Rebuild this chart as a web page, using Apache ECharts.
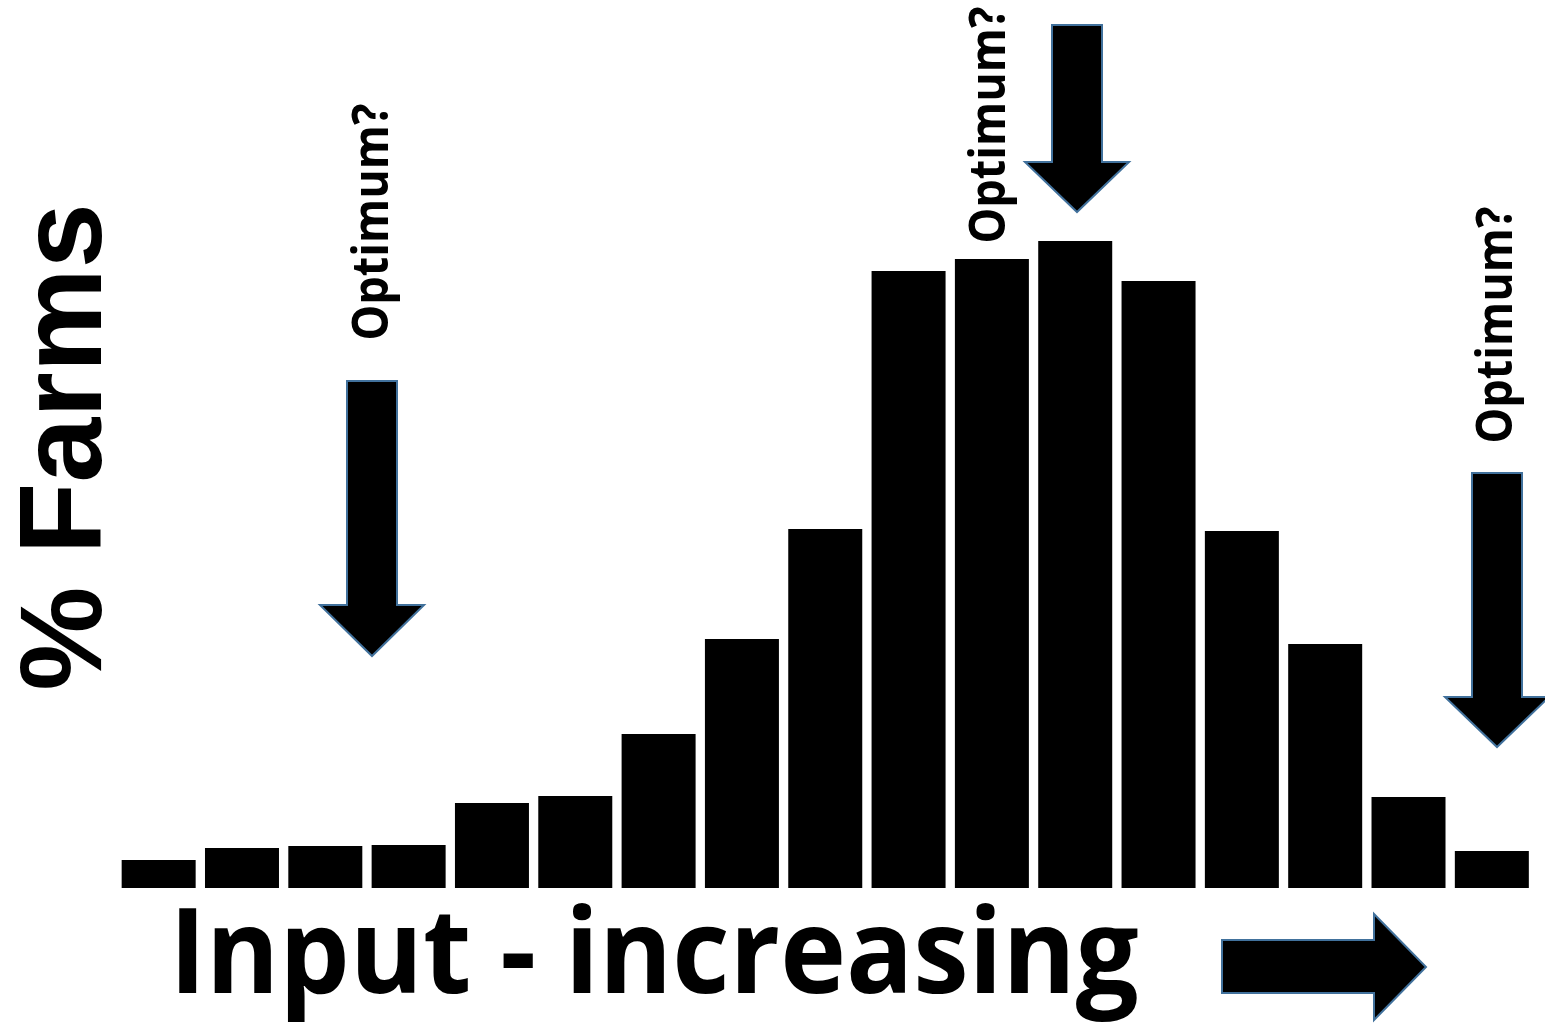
<!DOCTYPE html>
<html>
<head>
<meta charset="utf-8">
<script src="https://cdn.jsdelivr.net/npm/echarts@6/dist/echarts.min.js"></script>
<style>
  html, body { margin: 0; padding: 0; background: #fff; }
  #chart { width: 1545px; height: 1023px; }
</style>
</head>
<body>
<div id="chart"></div>
<script>
// Input classes, left (low input) to right (high input)
const categories = ["1", "2", "3", "4", "5", "6", "7", "8", "9", "10", "11", "12", "13", "14", "15", "16", "17"];
// Share of farms per class (relative bar heights)
const farmShare = [28, 40, 42, 43, 85, 92, 154, 249, 359, 617, 629, 647, 607, 357, 244, 91, 37];

const axisMax = 888;
const arrowBorder = "#41719C";

const chart = echarts.init(document.getElementById("chart"));

// block arrow shapes for the annotations
const downArrow = (cx, top, neck, tip) => [
  [cx - 25, top], [cx + 25, top], [cx + 25, neck], [cx + 52, neck],
  [cx, tip], [cx - 52, neck], [cx - 25, neck]
];

// rotated "Optimum?" label, x is the left edge of the letters
const optimumLabel = (x, y) => ({
  type: "text",
  x: x,
  y: y,
  rotation: Math.PI / 2,
  scaleX: 0.9,
  style: {
    text: "Optimum?",
    font: "bold 50px 'Open Sans'",
    fill: "#000",
    align: "center",
    verticalAlign: "top"
  }
});

const options = {
  animation: false,
  backgroundColor: "#fff",
  grid: { left: 117, right: 11.5, top: 0, bottom: 135 },
  xAxis: {
    type: "category",
    data: categories,
    show: false
  },
  yAxis: {
    type: "value",
    min: 0,
    max: axisMax,
    show: false
  },
  series: [
    {
      type: "bar",
      data: farmShare,
      barWidth: 74,
      itemStyle: { color: "#000" }
    }
  ],
  graphic: [
    {
      type: "polygon",
      shape: { points: downArrow(372, 381, 605, 656) },
      style: { fill: "#000", stroke: arrowBorder, lineWidth: 2 }
    },
    {
      type: "polygon",
      shape: { points: downArrow(1077, 25, 162, 212) },
      style: { fill: "#000", stroke: arrowBorder, lineWidth: 2 }
    },
    {
      type: "polygon",
      shape: { points: downArrow(1497, 473, 697, 747) },
      style: { fill: "#000", stroke: arrowBorder, lineWidth: 2 }
    },
    {
      type: "polygon",
      shape: {
        points: [[1222, 940], [1374, 940], [1374, 914], [1426, 967], [1374, 1020], [1374, 993], [1222, 993]]
      },
      style: { fill: "#000", stroke: arrowBorder, lineWidth: 2 }
    },
    optimumLabel(349, 222),
    optimumLabel(966, 125),
    optimumLabel(1473, 325),
    {
      type: "text",
      x: 10,
      y: 447,
      rotation: Math.PI / 2,
      style: {
        text: "% Farms",
        font: "bold 117px 'Liberation Sans', Arial, sans-serif",
        fill: "#000",
        align: "center",
        verticalAlign: "top"
      }
    },
    {
      type: "text",
      x: 654,
      y: 900,
      scaleX: 0.944,
      style: {
        text: "Input - increasing",
        font: "bold 118px 'Open Sans'",
        fill: "#000",
        align: "center",
        verticalAlign: "top"
      }
    }
  ]
};

chart.setOption(options);
</script>
</body>
</html>
